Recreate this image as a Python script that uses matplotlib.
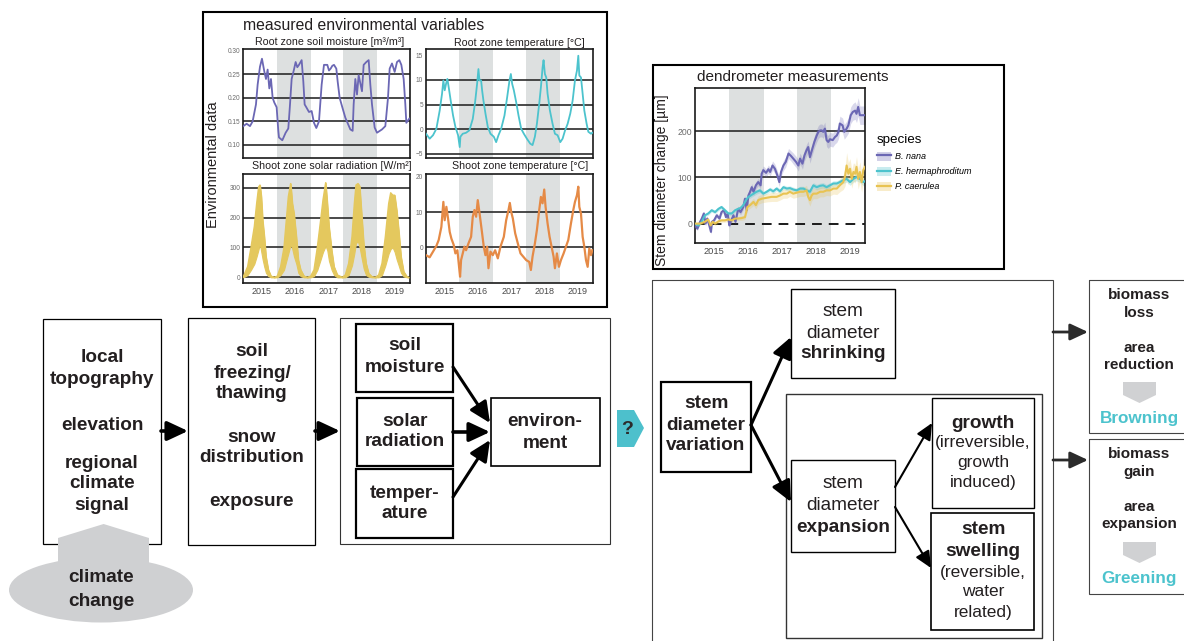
import matplotlib
matplotlib.use("Agg")
import matplotlib.pyplot as plt
from matplotlib.patches import Rectangle, Polygon, Ellipse, Patch
from matplotlib.lines import Line2D
from matplotlib.legend_handler import HandlerTuple
from matplotlib.ticker import FormatStrFormatter

plt.rcParams['font.family'] = ['Liberation Sans', 'DejaVu Sans']

# ---------------- data ----------------
YEARS = [2015, 2016, 2017, 2018, 2019]
XLIM = (2014.45, 2019.45)
WINTER_BANDS = [(2015.45, 2016.47), (2017.45, 2018.46)]

SM_YEAR = [2014.45, 2014.55, 2014.65, 2014.73, 2014.83, 2014.88, 2014.95,
           2015.01, 2015.08, 2015.13, 2015.18, 2015.23, 2015.28, 2015.33, 2015.38, 2015.45, 2015.50, 2015.52,
           2015.62, 2015.72, 2015.80, 2015.85, 2015.90, 2015.97,
           2016.02, 2016.07, 2016.12, 2016.20, 2016.25, 2016.29, 2016.34, 2016.42, 2016.50, 2016.57, 2016.64,
           2016.72, 2016.80, 2016.87, 2016.97,
           2017.02, 2017.07, 2017.12, 2017.17, 2017.24, 2017.28, 2017.34, 2017.42, 2017.51, 2017.66, 2017.73,
           2017.76, 2017.81, 2017.86, 2017.91,
           2018.01, 2018.06, 2018.14, 2018.21, 2018.26, 2018.31, 2018.39, 2018.46, 2018.61, 2018.71, 2018.79,
           2018.84, 2018.91, 2018.99,
           2019.06, 2019.13, 2019.19, 2019.26, 2019.31, 2019.34, 2019.41, 2019.43]
SM_VAL = [0.140, 0.145, 0.140, 0.150, 0.186, 0.228, 0.266,
          0.283, 0.256, 0.240, 0.260, 0.220, 0.240, 0.200, 0.190, 0.180, 0.130, 0.116, 0.110, 0.126, 0.135,
          0.185, 0.240, 0.260,
          0.276, 0.265, 0.270, 0.280, 0.235, 0.186, 0.180, 0.170, 0.172, 0.147, 0.136, 0.150, 0.228, 0.270,
          0.270,
          0.258, 0.262, 0.268, 0.270, 0.262, 0.235, 0.200, 0.180, 0.158, 0.133, 0.130, 0.186, 0.240, 0.207,
          0.248,
          0.214, 0.270, 0.276, 0.280, 0.228, 0.186, 0.137, 0.126, 0.133, 0.140, 0.200, 0.262, 0.273, 0.255,
          0.276, 0.280, 0.270, 0.240, 0.186, 0.147, 0.154, 0.156]

RT_YEAR = [2014.45, 2014.56, 2014.66, 2014.76, 2014.86, 2014.93, 2014.97,
           2015.01, 2015.06, 2015.09, 2015.13, 2015.19, 2015.26, 2015.33, 2015.41, 2015.46, 2015.48, 2015.55,
           2015.65, 2015.75, 2015.85, 2015.92, 2015.98,
           2016.02, 2016.05, 2016.10, 2016.13, 2016.17, 2016.23, 2016.30, 2016.38, 2016.48, 2016.55, 2016.62,
           2016.70, 2016.80, 2016.88, 2016.95, 2016.99,
           2017.03, 2017.08, 2017.15, 2017.22, 2017.30, 2017.38, 2017.47, 2017.57, 2017.64, 2017.71, 2017.77,
           2017.84, 2017.89, 2017.94, 2017.97,
           2018.01, 2018.05, 2018.09, 2018.16, 2018.24, 2018.31, 2018.39, 2018.47, 2018.54, 2018.61, 2018.69,
           2018.77, 2018.84, 2018.91, 2018.97,
           2019.01, 2019.04, 2019.09, 2019.14, 2019.19, 2019.26, 2019.31, 2019.39, 2019.43]
RT_VAL = [-0.9, -1.9, -1.2, 0.1, 3.8, 7.2, 9.9,
          7.9, 9.5, 10.2, 8.5, 5.8, 2.8, 0.5, -1.2, -3.6, -1.5, -0.9, -0.7, -0.2, 2.1, 5.5, 9.2,
          12.2, 9.9, 9.9, 7.9, 5.8, 3.2, 0.5, -0.9, -1.5, -2.6, -1.2, 0.1, 2.8, 6.5, 9.9, 11.2,
          9.2, 7.9, 5.5, 2.8, 0.1, -0.9, -1.9, -2.9, -3.2, -1.5, 1.1, 5.2, 8.5, 12.5, 14.0,
          11.2, 10.5, 7.2, 3.8, 1.1, -0.9, -1.2, -2.6, -1.9, -0.3, 1.1, 3.2, 5.8, 9.9, 11.9,
          14.9, 10.9, 10.5, 7.2, 3.8, 1.1, -0.5, -0.9, -0.7]

SR_YEAR = [2014.45, 2014.58, 2014.68, 2014.78, 2014.85, 2014.91, 2014.95, 2014.99,
           2015.03, 2015.08, 2015.13, 2015.20, 2015.28, 2015.38, 2015.47, 2015.57, 2015.67, 2015.74, 2015.80,
           2015.87, 2015.92, 2015.97,
           2016.04, 2016.10, 2016.17, 2016.27, 2016.37, 2016.47, 2016.57, 2016.67, 2016.77, 2016.84, 2016.92,
           2016.97,
           2017.02, 2017.10, 2017.17, 2017.27, 2017.42, 2017.51, 2017.61, 2017.71, 2017.78, 2017.83, 2017.89,
           2017.94, 2017.99,
           2018.06, 2018.13, 2018.21, 2018.31, 2018.41, 2018.51, 2018.61, 2018.71, 2018.81, 2018.87, 2018.93,
           2018.99,
           2019.05, 2019.11, 2019.18, 2019.26, 2019.36, 2019.41]
SR_HIGH = [2, 36, 100, 170, 247, 303, 309, 270,
           192, 136, 69, 25, 4, 0, 4, 36, 100, 192, 270, 314, 247, 214,
           136, 58, 25, 4, 0, 4, 25, 100, 192, 259, 317, 247,
           170, 91, 36, 8, 0, 8, 47, 136, 247, 309, 314, 305, 225,
           114, 47, 13, 2, 0, 8, 47, 136, 247, 283, 275, 275,
           225, 158, 69, 19, 2, 0]
SR_LOW = [0, 8, 25, 45, 70, 95, 110, 85,
          60, 35, 15, 4, 0, 0, 0, 8, 25, 55, 80, 110, 95, 70,
          45, 15, 4, 0, 0, 0, 4, 25, 60, 85, 105, 90,
          55, 25, 8, 0, 0, 0, 8, 40, 80, 115, 120, 100, 70,
          30, 8, 2, 0, 0, 0, 8, 40, 80, 95, 100, 85,
          60, 40, 15, 3, 0, 0]

ST_YEAR = [2014.45, 2014.56, 2014.66, 2014.76, 2014.83, 2014.91, 2014.97,
           2015.01, 2015.06, 2015.11, 2015.16, 2015.21, 2015.28, 2015.33, 2015.39, 2015.44, 2015.47, 2015.50,
           2015.55, 2015.60, 2015.65, 2015.72, 2015.80, 2015.85, 2015.90, 2015.95,
           2016.00, 2016.04, 2016.08, 2016.13, 2016.18, 2016.23, 2016.28, 2016.32, 2016.38, 2016.45, 2016.52,
           2016.60, 2016.68, 2016.78, 2016.85, 2016.92, 2016.96,
           2017.00, 2017.05, 2017.12, 2017.20, 2017.28, 2017.36, 2017.45, 2017.54, 2017.59, 2017.64, 2017.71,
           2017.77, 2017.84, 2017.89, 2017.94, 2017.99,
           2018.03, 2018.09, 2018.15, 2018.21, 2018.27, 2018.31, 2018.37, 2018.43, 2018.49, 2018.57, 2018.64,
           2018.71, 2018.79, 2018.86, 2018.91, 2018.97,
           2019.01, 2019.04, 2019.09, 2019.14, 2019.19, 2019.24, 2019.29, 2019.34, 2019.39, 2019.43]
ST_VAL = [-2.2, -2.8, -1.2, 0.4, 2.1, 5.8, 12.9,
          7.7, 11.5, 8.2, 4.4, 2.5, 0.7, -1.7, -0.8, -5.5, -8.3, -3.6, -1.7, 0.2, -0.8, 1.1, 3.0, 8.7, 10.6, 8.7,
          13.4, 10.6, 7.7, 4.0, 0.2, -2.2, 0.2, -5.9, -1.2, -2.2, -0.8, -3.1, 0.2, 3.0, 7.7, 10.6, 12.6,
          10.1, 8.2, 4.0, 1.1, -1.7, -2.6, -3.6, -4.1, -6.4, -2.6, 1.1, 4.9, 10.6, 14.3, 12.5, 16.4,
          11.5, 6.8, 3.0, 0.2, -2.6, -5.9, -1.7, -5.5, -3.6, -1.7, 0.2, 2.1, 6.8, 10.6, 12.9, 14.8,
          17.2, 11.5, 9.6, 3.0, 0.2, -3.6, -5.5, -0.3, -2.2, -0.8]

SPECIES = ['B. nana', 'E. hermaphroditum', 'P. caerulea']

BN_YEAR = [2014.45, 2014.52, 2014.60, 2014.65, 2014.71, 2014.76, 2014.81, 2014.87, 2014.92, 2014.95,
           2015.01, 2015.09, 2015.17, 2015.23, 2015.30, 2015.36, 2015.41, 2015.46, 2015.50, 2015.58, 2015.64,
           2015.72, 2015.79, 2015.87, 2015.92, 2015.97,
           2016.02, 2016.07, 2016.12, 2016.17, 2016.24, 2016.31, 2016.38, 2016.41, 2016.46, 2016.54, 2016.61,
           2016.66, 2016.73, 2016.80, 2016.87, 2016.93, 2016.98,
           2017.05, 2017.12, 2017.20, 2017.27, 2017.34, 2017.42, 2017.49, 2017.54, 2017.61, 2017.67, 2017.73,
           2017.78, 2017.83, 2017.90, 2017.96,
           2018.03, 2018.08, 2018.13, 2018.18, 2018.22, 2018.27, 2018.32, 2018.37, 2018.42, 2018.50, 2018.57,
           2018.62, 2018.67, 2018.71, 2018.79, 2018.84, 2018.91, 2018.96,
           2019.03, 2019.09, 2019.16, 2019.20, 2019.25, 2019.30, 2019.38, 2019.45]
BN_VAL = [-4, -11, 4, 11, 22, 0, 11, -4, -18, 4,
          7, 18, 11, 25, 29, 14, 22, -4, 4, 18, 4, 32, 25, 36, 54, 29,
          61, 69, 79, 69, 83, 90, 83, 108, 116, 110, 118, 112, 126, 119, 105, 90, 112,
          126, 134, 152, 147, 141, 134, 126, 141, 130, 148, 159, 166, 144, 162, 177,
          191, 199, 202, 202, 199, 206, 181, 177, 183, 181, 188, 191, 199, 217, 213, 199, 206, 213,
          235, 242, 245, 238, 253, 235, 235, 235]
BN_CI = [4, 4, 4, 5, 5, 5, 5, 5, 5, 5,
         5, 5, 5, 5, 5, 5, 5, 6, 6, 6, 6, 6, 6, 6, 7, 7,
         7, 8, 8, 8, 8, 8, 8, 9, 9, 9, 9, 9, 10, 10, 10, 10, 10,
         11, 11, 11, 11, 12, 12, 12, 12, 12, 12, 13, 13, 13, 13, 13,
         14, 14, 14, 14, 14, 14, 14, 14, 15, 15, 15, 15, 15, 16, 16, 16, 16, 17,
         18, 18, 19, 19, 20, 20, 20, 20]

EH_YEAR = [2014.45, 2014.55, 2014.65, 2014.74, 2014.84, 2014.94, 2015.04, 2015.14, 2015.23, 2015.33,
           2015.43, 2015.53, 2015.63, 2015.72, 2015.79, 2015.87, 2015.95, 2016.02, 2016.09, 2016.17,
           2016.26, 2016.36, 2016.46, 2016.56, 2016.66, 2016.75, 2016.85, 2016.95, 2017.05, 2017.15,
           2017.24, 2017.34, 2017.44, 2017.54, 2017.64, 2017.73, 2017.83, 2017.93, 2018.03, 2018.13,
           2018.22, 2018.32, 2018.42, 2018.52, 2018.62, 2018.71, 2018.81, 2018.91, 2019.01, 2019.11,
           2019.20, 2019.30, 2019.40, 2019.45]
EH_VAL = [0, -4, 4, 18, 22, 29, 25, 32, 36, 29,
          22, 22, 29, 32, 34, 40, 51, 58, 61, 65,
          69, 72, 65, 69, 74, 70, 76, 70, 79, 76,
          77, 74, 72, 76, 76, 72, 69, 83, 79, 82,
          83, 79, 83, 87, 87, 90, 94, 97, 90, 97,
          101, 97, 90, 92]
EH_CI = [3, 3, 3, 3, 4, 4, 4, 4, 4, 4,
         4, 4, 4, 4, 4, 4, 5, 5, 5, 5,
         5, 5, 5, 5, 5, 5, 5, 5, 5, 5,
         5, 5, 5, 5, 5, 5, 6, 6, 6, 6,
         6, 6, 6, 6, 6, 6, 7, 7, 7, 7,
         8, 8, 8, 8]

PC_YEAR = [2014.45, 2014.60, 2014.74, 2014.84, 2014.91, 2014.97, 2015.04, 2015.14, 2015.23, 2015.33,
           2015.43, 2015.53, 2015.63, 2015.72, 2015.82, 2015.92, 2015.99, 2016.07, 2016.17, 2016.24,
           2016.31, 2016.41, 2016.56, 2016.70, 2016.85, 2016.95, 2017.05, 2017.15, 2017.24, 2017.34,
           2017.44, 2017.54, 2017.64, 2017.73, 2017.78, 2017.83, 2017.88, 2017.93, 2018.03, 2018.13,
           2018.22, 2018.32, 2018.42, 2018.52, 2018.62, 2018.71, 2018.81, 2018.86, 2018.91, 2018.96,
           2019.01, 2019.06, 2019.11, 2019.16, 2019.20, 2019.25, 2019.30, 2019.35, 2019.40, 2019.45]
PC_VAL = [0, 0, 4, 9, -4, 4, 0, 5, 7, 7,
          9, 7, 11, 11, 12, 14, 36, 40, 47, 40,
          51, 54, 56, 58, 58, 61, 65, 65, 69, 65,
          67, 69, 69, 72, 58, 51, 61, 65, 65, 69,
          69, 72, 72, 76, 76, 83, 90, 101, 126, 108,
          119, 97, 112, 108, 123, 97, 112, 90, 116, 123]
PC_CI = [3, 3, 3, 3, 3, 3, 4, 4, 4, 4,
         4, 4, 4, 4, 5, 5, 6, 7, 8, 8,
         9, 9, 9, 10, 10, 10, 10, 10, 10, 10,
         10, 10, 10, 11, 12, 13, 12, 11, 11, 11,
         11, 11, 12, 12, 13, 14, 16, 20, 28, 24,
         22, 20, 20, 20, 22, 22, 22, 22, 24, 24]

# ---------------- style ----------------
PURPLE = '#6b67b4'
TEAL = '#4cc3cd'
YELLOW = '#e4c85e'
YELLOW2 = '#e8c352'
ORANGE = '#e58a46'
BAND = '#dde0e0'
GRID = '#2b2b2b'
DARK = '#231f20'
TICKC = '#6a6a6a'

W, H = 1184, 641
fig = plt.figure(figsize=(W / 100, H / 100), dpi=100)
ax0 = fig.add_axes([0, 0, 1, 1])
ax0.set_xlim(0, W)
ax0.set_ylim(H, 0)
ax0.axis('off')


def pax(x0, y0, x1, y1):
    return fig.add_axes([x0 / W, 1 - y1 / H, (x1 - x0) / W, (y1 - y0) / H])


def style_axis(ax, ylim, yticks, grid, ylab_size=4.7, xlab_size=6.5, show_x=True, fmt=None):
    for b0, b1 in WINTER_BANDS:
        ax.axvspan(b0, b1, color=BAND, lw=0, zorder=0)
    for g in grid:
        ax.axhline(g, color=GRID, lw=1.2, zorder=1)
    ax.set_xlim(*XLIM)
    ax.set_ylim(*ylim)
    ax.set_xticks(YEARS)
    ax.set_yticks(yticks)
    if fmt:
        ax.yaxis.set_major_formatter(FormatStrFormatter(fmt))
    ax.tick_params(axis='y', length=0, labelsize=ylab_size, colors=TICKC, pad=2)
    ax.tick_params(axis='x', length=0, labelsize=xlab_size, colors='#4a4a4a', pad=3,
                   labelbottom=show_x)
    for s in ax.spines.values():
        s.set_linewidth(1.2)
        s.set_color('#1a1a1a')


# ---- environmental panels ----
ax_sm = pax(243.3, 49.3, 410, 157.7)
style_axis(ax_sm, (0.073, 0.303), [0.10, 0.15, 0.20, 0.25, 0.30], [0.10, 0.15, 0.20, 0.25],
           show_x=False, fmt='%.2f')
ax_sm.plot(SM_YEAR, SM_VAL, color=PURPLE, lw=1.3, zorder=3)

ax_rt = pax(426, 49.3, 593, 157.7)
style_axis(ax_rt, (-5.75, 16.2), [-5, 0, 5, 10, 15], [-5, 0, 5, 10], show_x=False)
ax_rt.plot(RT_YEAR, RT_VAL, color=TEAL, lw=1.3, zorder=3)

ax_sr = pax(243.3, 174, 410, 282.7)
style_axis(ax_sr, (-18, 346), [0, 100, 200, 300], [0, 100, 200, 300])
ax_sr.fill_between(SR_YEAR, SR_LOW, SR_HIGH, color=YELLOW, lw=0.8, zorder=3)
ax_sr.plot(SR_YEAR, SR_HIGH, color=YELLOW, lw=1.0, zorder=3)

ax_st = pax(426, 174, 593, 282.7)
style_axis(ax_st, (-10, 20.8), [0, 10, 20], [0, 10])
ax_st.plot(ST_YEAR, ST_VAL, color=ORANGE, lw=1.6, zorder=3)

# ---- dendrometer panel ----
ax_d = pax(695, 88, 865, 243)
style_axis(ax_d, (-42, 294), [0, 100, 200], [100, 200], ylab_size=6.2, xlab_size=6.7)
ax_d.axhline(0, color='#1a1a1a', lw=1.4, linestyle=(0, (5, 3.6)), zorder=2)
series = [(BN_YEAR, BN_VAL, BN_CI, PURPLE), (EH_YEAR, EH_VAL, EH_CI, TEAL), (PC_YEAR, PC_VAL, PC_CI, YELLOW2)]
for xs, ys, ci, c in series:
    lo = [v - e for v, e in zip(ys, ci)]
    hi = [v + e for v, e in zip(ys, ci)]
    ax_d.fill_between(xs, lo, hi, color=c, alpha=0.25, lw=0, zorder=2)
for xs, ys, ci, c in series:
    ax_d.plot(xs, ys, color=c, lw=1.5, zorder=3)

handles = [(Patch(facecolor=c, alpha=0.3, edgecolor='none'), Line2D([], [], color=c, lw=1.6))
           for c in (PURPLE, TEAL, YELLOW2)]
leg = ax_d.legend(handles, SPECIES, handler_map={tuple: HandlerTuple(ndivide=1, pad=0)},
                  title='species', loc='upper left', bbox_to_anchor=(877 / W, 1 - 134 / H),
                  bbox_transform=fig.transFigure, frameon=False,
                  prop={'size': 6.5, 'style': 'italic'}, title_fontsize=9.6,
                  handlelength=1.5, handleheight=1.15, handletextpad=0.45, labelspacing=0.62,
                  borderpad=0, borderaxespad=0, alignment='left')

# ---------------- framing & titles ----------------
def box(x0, y0, x1, y1, lw=0.8, ec='black'):
    ax0.add_patch(Rectangle((x0, y0), x1 - x0, y1 - y0, fill=False, lw=lw, ec=ec, zorder=2))


def txt(x, y, s, size=13.7, weight='bold', color=DARK, ha='center', **kw):
    ax0.text(x, y, s, fontsize=size, fontweight=weight, color=color, ha=ha, va='center', zorder=5, **kw)


box(203, 12, 607, 307, lw=1.5)
box(653, 65, 1004, 269, lw=1.5)

txt(243, 25, 'measured environmental variables', size=11.3, weight='normal', ha='left')
txt(330, 42, 'Root zone soil moisture [m³/m³]', size=7.7, weight='normal')
txt(519, 43, 'Root zone temperature [°C]', size=7.7, weight='normal')
txt(332, 166, 'Shoot zone solar radiation [W/m²]', size=7.7, weight='normal')
txt(520, 166, 'Shoot zone temperature [°C]', size=7.7, weight='normal')
txt(213, 165, 'Environmental data', size=10.5, weight='normal', rotation=90)
txt(697, 77, 'dendrometer measurements', size=11, weight='normal', ha='left')
txt(662, 180, 'Stem diameter change [µm]', size=10, weight='normal', rotation=90)

# ---------------- flowchart ----------------
box(43, 319, 161, 544, lw=0.9)
box(188, 318, 315, 545, lw=0.9)
box(340, 318, 610, 544, lw=0.8, ec='#333333')
box(356, 324, 453, 392, lw=1.6)
box(357, 398, 453, 466, lw=1.6)
box(356, 469, 453, 538, lw=1.6)
box(491, 398, 600, 466, lw=1.2)

box(652, 280, 1053, 660, lw=0.8, ec='#444444')
box(661, 382, 751, 472, lw=1.6)
box(791, 289, 895, 378, lw=1.0)
box(786, 394, 1042, 638, lw=1.0, ec='#333333')
box(791, 460, 895, 552, lw=1.0)
box(932, 398, 1034, 508, lw=1.0)
box(931, 513, 1034, 630, lw=1.2)
box(1089, 280, 1200, 433, lw=0.8, ec='#444444')
box(1089, 439, 1200, 594, lw=0.8, ec='#444444')

GREY = '#cfd0d2'
ax0.add_patch(Polygon([(58, 575), (58, 538), (103.6, 524), (149, 538), (149, 575)],
                      closed=True, fc=GREY, ec='none', zorder=3))
ax0.add_patch(Ellipse((101, 590), 184, 65, fc=GREY, ec='none', zorder=3))
ax0.add_patch(Polygon([(617, 410), (634, 410), (644, 428), (634, 447), (617, 447)],
                      closed=True, fc='#4dc0cc', ec='none', zorder=3))
for ytop in (382, 542):
    ax0.add_patch(Polygon([(1123, ytop), (1156, ytop), (1156, ytop + 13), (1139.5, ytop + 21),
                           (1123, ytop + 13)], closed=True, fc='#d0d1d3', ec='none', zorder=3))


def arrow(x0, y0, x1, y1, lw=2.2, hl=0.9, hw=0.42, ms=14, color='black'):
    ax0.annotate('', xy=(x1, y1), xytext=(x0, y0),
                 arrowprops=dict(arrowstyle=f'-|>,head_length={hl},head_width={hw}', lw=lw,
                                 color=color, shrinkA=0, shrinkB=0, mutation_scale=ms), zorder=4)


arrow(161, 431, 188, 431, lw=2.6)
arrow(315, 431, 340, 431, lw=2.6)
arrow(453, 367, 490, 423, lw=2.2)
arrow(453, 432, 490, 432, lw=2.6)
arrow(453, 497, 490, 440, lw=2.2)
arrow(751, 425, 791, 337, lw=2.2)
arrow(751, 425, 791, 502, lw=2.2)
arrow(895, 487, 932, 423, lw=1.5, ms=11)
arrow(895, 507, 931, 568, lw=1.5, ms=11)
arrow(1053, 332, 1088, 332, lw=2.0, color='#2b2b2b', ms=12)
arrow(1053, 460, 1088, 460, lw=2.0, color='#2b2b2b', ms=12)

for s, y in [('local', 358), ('topography', 380), ('elevation', 425), ('regional', 463),
             ('climate', 484), ('signal', 506)]:
    txt(102, y, s)
for s, y in [('soil', 351), ('freezing/', 373), ('thawing', 393), ('snow', 437),
             ('distribution', 458), ('exposure', 502)]:
    txt(252, y, s)
for s, y in [('soil', 346), ('moisture', 368), ('solar', 422), ('radiation', 442),
             ('temper-', 493), ('ature', 514)]:
    txt(405, y, s)
txt(545, 422, 'environ-')
txt(545, 443, 'ment')
txt(101, 578, 'climate')
txt(101, 601, 'change')
txt(627, 429, '?', size=14, color='#2b2b2b')

for s, y in [('stem', 403), ('diameter', 425), ('variation', 446)]:
    txt(706, y, s)
txt(843, 312, 'stem', weight='normal')
txt(843, 333, 'diameter', weight='normal')
txt(843, 354, 'shrinking')
txt(843, 484, 'stem', weight='normal')
txt(843, 505, 'diameter', weight='normal')
txt(843, 527, 'expansion')
txt(983, 423, 'growth')
for s, y in [('(irreversible,', 443), ('growth', 463), ('induced)', 482)]:
    txt(983, y, s, size=12.5, weight='normal')
txt(983, 530, 'stem')
txt(983, 552, 'swelling')
for s, y in [('(reversible,', 572), ('water', 592), ('related)', 612)]:
    txt(983, y, s, size=12.5, weight='normal')

for s, y in [('biomass', 295), ('loss', 313), ('area', 348), ('reduction', 365),
             ('biomass', 454), ('gain', 472), ('area', 507), ('expansion', 524)]:
    txt(1139, y, s, size=11)
txt(1139, 418, 'Browning', size=12.3, color='#4cc3cd')
txt(1139, 578, 'Greening', size=12.3, color='#4cc3cd')

fig.savefig('out.png', dpi=100)
